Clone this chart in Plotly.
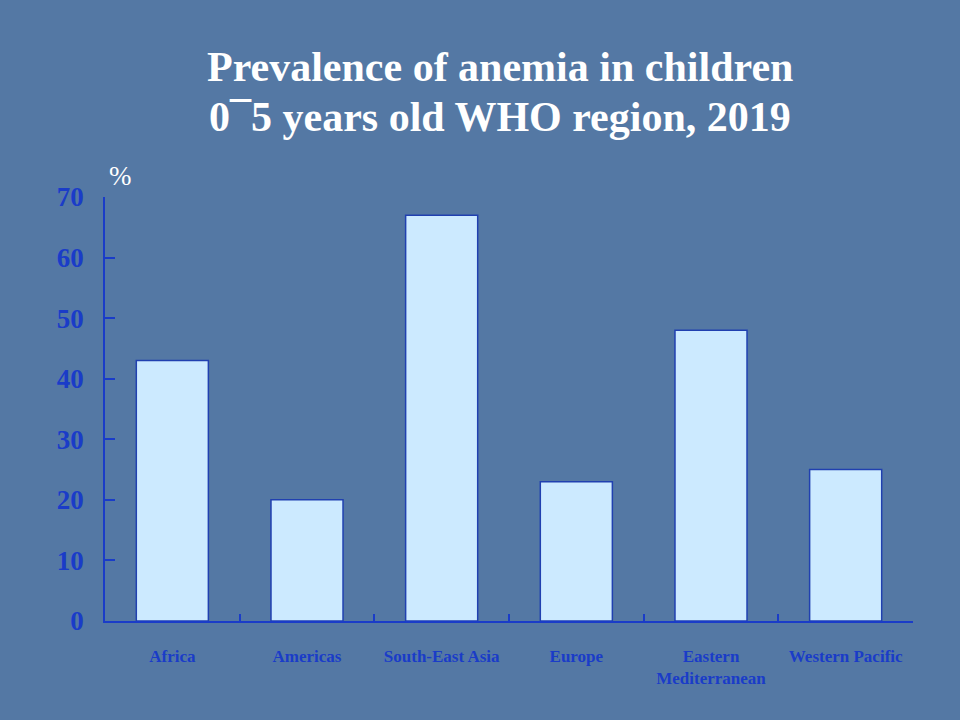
import plotly.graph_objects as go

#### chart data ####
regions = ['Africa', 'Americas', 'South-East Asia', 'Europe', 'Eastern<br>Mediterranean', 'Western Pacific']
prevalence = [43, 20, 67, 23, 48, 25]
y_ticks = [0, 10, 20, 30, 40, 50, 60, 70]
title_lines = ['Prevalence of anemia in children', '0\u00af5 years old WHO region, 2019']

axis_blue = '#1a3cc8'
bg = '#5478a4'

#### plot area in pixels ####
W, H = 960, 720
L, R, T, B = 105, 47, 197, 99
pw, ph = W - L - R, H - T - B

fig = go.Figure(data=go.Bar(x=regions, y=prevalence,
                            marker=dict(color='#cceaff', line=dict(color='#2040b0', width=1.5))))

fig.update_layout(
    width=W, height=H,
    paper_bgcolor=bg, plot_bgcolor=bg,
    margin=dict(l=L, r=R, t=T, b=B),
    bargap=0.465,
    showlegend=False,
    font=dict(family='Liberation Serif'),
)

fig.update_xaxes(showline=True, linecolor=axis_blue, linewidth=1.5,
                 ticks='inside', tickson='boundaries', ticklen=7, tickcolor=axis_blue, tickwidth=1.5,
                 tickfont=dict(size=17, color=axis_blue, family='Liberation Serif', weight='bold'),
                 ticklabelstandoff=19, showgrid=False, zeroline=False)
fig.update_yaxes(range=[0, 70], tickvals=y_ticks, showline=True, linecolor=axis_blue, linewidth=1.5,
                 ticks='inside', ticklen=10, tickcolor=axis_blue, tickwidth=1.5,
                 tickfont=dict(size=27, color=axis_blue, family='Liberation Serif', weight='bold'),
                 ticklabelstandoff=14, showgrid=False, zeroline=False)

# two-line title, one annotation per line (pixel centre -> paper coords)
for line, ypix in zip(title_lines, [67, 117]):
    fig.add_annotation(text='<b>%s</b>' % line,
                       x=(500 - L) / pw, xref='paper', xanchor='center',
                       y=(H - ypix - B) / ph, yref='paper', yanchor='middle', showarrow=False,
                       font=dict(size=42, color='white', family='Liberation Serif'))

fig.add_annotation(text='%', x=0, xref='paper', xanchor='left', xshift=2,
                   y=1, yref='paper', yanchor='bottom', yshift=4, showarrow=False,
                   font=dict(size=27, color='white', family='Liberation Serif'))

fig.write_html('out.html', config={'displayModeBar': False},
               post_script="document.body.style.margin='0';")
